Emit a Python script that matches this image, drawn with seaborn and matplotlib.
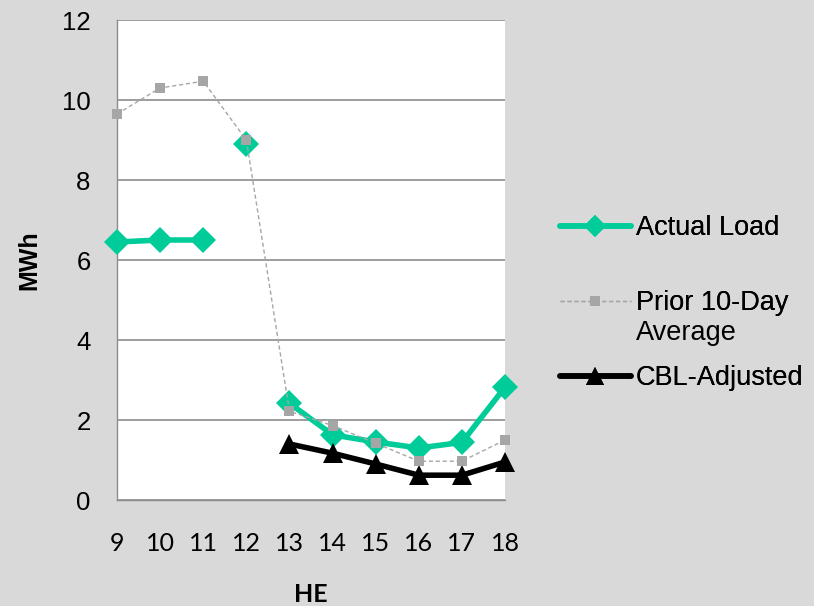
import matplotlib
matplotlib.use("Agg")
import matplotlib.pyplot as plt
from matplotlib.lines import Line2D
import seaborn as sns
import pandas as pd

hours = [9, 10, 11, 12, 13, 14, 15, 16, 17, 18]
actual_load = [6.45, 6.5, 6.5, 8.9, 2.42, 1.63, 1.45, 1.3, 1.44, 2.82]
actual_segment = [0, 0, 0, 1, 2, 2, 2, 2, 2, 2]
prior_avg = [9.65, 10.3, 10.47, 9.0, 2.22, 1.86, 1.42, 0.97, 0.97, 1.5]
cbl_hours = [13, 14, 15, 16, 17, 18]
cbl_adjusted = [1.4, 1.17, 0.9, 0.62, 0.62, 0.95]

green = "#00CC99"
gray = "#A6A6A6"
bg = "#D9D9D9"
axis_gray = "#8C8C8C"

sns.set_style("white")
plt.rcParams["font.family"] = ["Liberation Sans", "DejaVu Sans"]
plt.rcParams["text.color"] = "black"

fig = plt.figure(figsize=(8.14, 6.06), dpi=100, facecolor=bg)
ax = fig.add_axes([117/814, 1-500/606, (505-117)/814, (500-20)/606])
ax.set_facecolor("white")

df_a = pd.DataFrame({"HE": hours, "MWh": actual_load, "seg": actual_segment})
df_p = pd.DataFrame({"HE": hours, "MWh": prior_avg})
df_c = pd.DataFrame({"HE": cbl_hours, "MWh": cbl_adjusted})

sns.lineplot(data=df_a, x="HE", y="MWh", units="seg", estimator=None, ax=ax,
             color=green, lw=4.0, marker="D", markersize=13, markeredgewidth=0,
             clip_on=False, zorder=3)
sns.lineplot(data=df_c, x="HE", y="MWh", ax=ax, color="black", lw=4.0,
             marker="^", markersize=14, markeredgewidth=0, clip_on=False, zorder=3)
sns.lineplot(data=df_p, x="HE", y="MWh", ax=ax, color=gray, lw=1.0,
             linestyle=(0, (3, 2)), marker="s", markersize=6.5, markeredgewidth=0,
             clip_on=False, zorder=4)

ax.set_xlim(9, 18)
ax.set_ylim(0, 12)
ax.set_yticks(range(0, 13, 2))
ax.set_xticks(hours)
ax.yaxis.grid(True, color=axis_gray, lw=1.2)
ax.xaxis.grid(False)
for s in ["top", "right"]:
    ax.spines[s].set_visible(False)
for s in ["left", "bottom"]:
    ax.spines[s].set_color(axis_gray)
    ax.spines[s].set_linewidth(1.0)
ax.tick_params(axis="y", direction="out", length=7, color=axis_gray,
               labelsize=18.5, pad=12, labelcolor="black")
ax.tick_params(axis="x", direction="out", length=7, color=axis_gray,
               labelsize=18, pad=16, labelcolor="black")
for t in ax.get_xticklabels():
    t.set_family(["Lato", "DejaVu Sans"])
ax.set_ylabel("MWh", fontsize=18, fontweight="bold", labelpad=15, color="black")
ax.set_xlabel("HE", fontsize=18, fontweight="bold", labelpad=20, color="black",
              family=["Lato", "DejaVu Sans"])

legend_items = [
    (Line2D([], [], color=green, lw=4.0, marker="D", markersize=11, markeredgewidth=0),
     "Actual Load", 228),
    (Line2D([], [], color=gray, lw=1.0, linestyle=(0, (3, 2)), marker="s",
            markersize=6.5, markeredgewidth=0), "Prior 10-Day", 303),
    (Line2D([], [], color="black", lw=4.0, marker="^", markersize=13, markeredgewidth=0),
     "CBL-Adjusted", 378),
]
for h, lab, ypix in legend_items:
    leg = fig.legend([h], [lab], loc="center left",
                     bbox_to_anchor=(552/814, 1-ypix/606), frameon=False,
                     fontsize=19.5, handlelength=2.6, handletextpad=0.2,
                     borderaxespad=0, borderpad=0.3)
    fig.add_artist(leg)
fig.text(636/814, 1-333/606, "Average", fontsize=19.5, va="center", ha="left")

fig.savefig("out.png", dpi=100, facecolor=bg)
